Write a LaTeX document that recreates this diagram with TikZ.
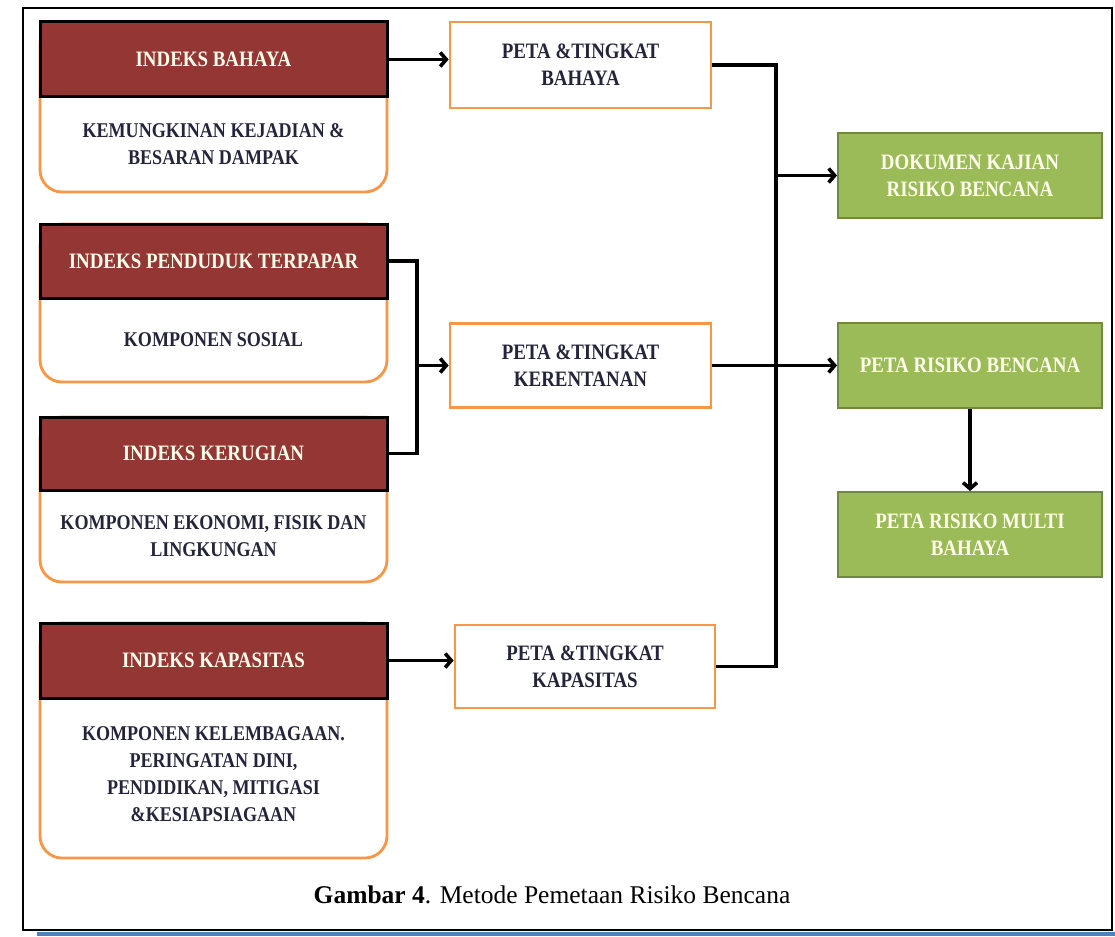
\documentclass[tikz,border=0pt]{standalone}
\usepackage{fontspec}
\setmainfont{Liberation Serif}
\newfontfamily\boxf[FakeStretch=0.86]{Liberation Serif}
\usetikzlibrary{arrows.meta}
\definecolor{hdrred}{HTML}{943634}
\definecolor{boxorange}{HTML}{F79646}
\definecolor{boxgreen}{HTML}{9BBB59}
\definecolor{greenedge}{HTML}{71893F}
\definecolor{capblue}{HTML}{4F81BD}
\definecolor{txtdark}{HTML}{24243A}
\begin{document}
\begin{tikzpicture}[x=1pt,y=-1pt,
  hdr/.style={draw=black, line width=3pt, fill=hdrred, text=white!92!yellow, minimum width=347pt, minimum height=75pt, inner sep=0pt, align=center, font=\boxf\bfseries\fontsize{22}{27}\selectfont},
  body/.style={draw=boxorange, line width=2.8pt, fill=white, rounded corners=22pt, minimum width=347pt, inner sep=0pt},
  bodytxt/.style={text=txtdark, align=center, inner sep=0pt, font=\boxf\bfseries\fontsize{21}{27}\selectfont},
  peta/.style={draw=boxorange, line width=2.8pt, fill=white, minimum width=261pt, minimum height=85pt, inner sep=0pt, text=txtdark, align=center, font=\boxf\bfseries\fontsize{22}{27}\selectfont},
  hasil/.style={draw=greenedge, line width=2pt, fill=boxgreen, minimum width=264pt, minimum height=85pt, inner sep=0pt, text=white!92!yellow, align=center, font=\boxf\bfseries\fontsize{22}{27}\selectfont},
  conn/.style={line width=3.6pt, black, line join=miter},
  arr/.style={conn, -{Straight Barb[length=6pt,width=14pt]}}
]
\useasboundingbox (0,0) rectangle (1115,936);
% frame
\draw[line width=2.4pt] (23,8) rectangle (1112,930);
\fill[capblue] (37,931.5) rectangle (1115,936);

% left boxes
\node[body, minimum height=170pt] (b1) at (213.5,107) {};
\node[hdr] (h1) at (213.5,59.5) {INDEKS BAHAYA};
\node[bodytxt] (t1) at (213.5,144) {KEMUNGKINAN KEJADIAN \&\\BESARAN DAMPAK};

\node[body, minimum height=158pt] (b2) at (213.5,303) {};
\node[hdr, minimum height=74pt] (h2) at (213.5,261) {INDEKS PENDUDUK TERPAPAR};
\node[bodytxt] (t2) at (213.5,340) {KOMPONEN SOSIAL};

\node[body, minimum height=165pt] (b3) at (213.5,499.5) {};
\node[hdr, minimum height=73pt] (h3) at (213.5,453.5) {INDEKS KERUGIAN};
\node[bodytxt] (t3) at (213.5,536) {KOMPONEN EKONOMI, FISIK DAN\\LINGKUNGAN};

\node[body, minimum height=235pt] (b4) at (213.5,740.5) {};
\node[hdr] (h4) at (213.5,660.5) {INDEKS KAPASITAS};
\node[bodytxt] (t4) at (213.5,774) {KOMPONEN KELEMBAGAAN.\\PERINGATAN DINI,\\PENDIDIKAN, MITIGASI\\\&KESIAPSIAGAAN};

% middle boxes
\node[peta, minimum height=86pt] (m1) at (580.5,65) {PETA \&TINGKAT\\BAHAYA};
\node[peta, minimum height=84pt] (m2) at (580.5,365.5) {PETA \&TINGKAT\\KERENTANAN};
\node[peta, minimum width=260pt, minimum height=83pt] (m3) at (585,666.5) {PETA \&TINGKAT\\KAPASITAS};

% result boxes
\node[hasil] (g1) at (970,175.5) {DOKUMEN KAJIAN\\RISIKO BENCANA};
\node[hasil] (g2) at (970,365.5) {PETA RISIKO BENCANA};
\node[hasil] (g3) at (970,534.5) {PETA RISIKO MULTI\\BAHAYA};

% caption
\node[anchor=base, inner sep=0pt, font=\fontsize{25.5}{30}\selectfont] (cap) at (552,903) {\textbf{Gambar 4}. Metode Pemetaan Risiko Bencana};

% connectors
\coordinate (trunk) at (776,0);
\coordinate (merge) at (417,0);
\draw[arr] (h1.east) -- (h1.east -| m1.west);
\draw[arr] (h4.east) -- (h4.east -| m3.west);
\draw[conn] (h2.east) -| (merge |- h3.east) -- (h3.east);
\draw[arr] (merge |- m2.west) -- (m2.west);
\draw[conn] (m1.east) -| (trunk |- m3.east) -- (m3.east);
\draw[arr] (trunk |- g1.west) -- (g1.west);
\draw[arr] (m2.east) -- (g2.west);
\draw[arr] (g2.south) -- (g3.north);
\end{tikzpicture}
\end{document}
